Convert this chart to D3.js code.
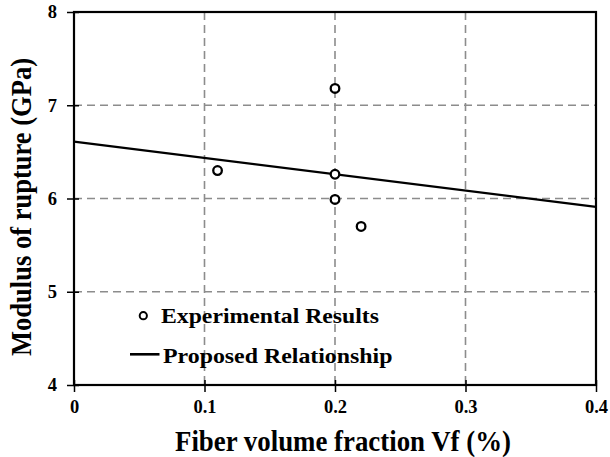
<!DOCTYPE html>
<html>
<head>
<meta charset="utf-8">
<script src="https://cdn.jsdelivr.net/npm/d3@7"></script>
<style>
  html, body { margin: 0; padding: 0; background: #fff; }
  svg { display: block; }
  text { font-family: "Liberation Serif", "Times New Roman", serif; font-weight: bold; fill: #000; }
</style>
</head>
<body>
<script>
// Experimental measurements
const expVf = [0.11, 0.20, 0.20, 0.20, 0.22];
const expMOR = [6.30, 7.18, 6.26, 5.99, 5.70];

// Proposed relationship (straight line between its end points)
const relVf = [0, 0.4];
const relMOR = [6.61, 5.91];

const xTicks = [0, 0.1, 0.2, 0.3, 0.4];
const xTickLabels = ["0", "0.1", "0.2", "0.3", "0.4"];
const yTicks = [4, 5, 6, 7, 8];
const yTickLabels = ["4", "5", "6", "7", "8"];
const legendLabels = ["Experimental Results", "Proposed Relationship"];

const W = 610, H = 457;
const m = { left: 74, right: 14, top: 12, bottom: 72 };

const svg = d3.select("body").append("svg").attr("width", W).attr("height", H);

const x = d3.scaleLinear().domain([0, 0.4]).range([m.left, W - m.right]);
const y = d3.scaleLinear().domain([4, 8]).range([H - m.bottom, m.top]);

// dashed grid
const grid = svg.append("g").attr("stroke", "#8c8c8c").attr("stroke-width", 1.6)
  .attr("stroke-dasharray", "8,5");
grid.selectAll("line.gx").data(xTicks.slice(1, -1)).join("line")
  .attr("x1", d => x(d)).attr("x2", d => x(d))
  .attr("y1", y(8)).attr("y2", y(4));
grid.selectAll("line.gy").data(yTicks.slice(1, -1)).join("line")
  .attr("x1", x(0)).attr("x2", x(0.4))
  .attr("y1", d => y(d)).attr("y2", d => y(d));

// axes: ticks cross the frame line
const xAxis = d3.axisBottom(x).tickValues(xTicks)
  .tickFormat((d, i) => xTickLabels[i]).tickSize(7).tickPadding(8);
const yAxis = d3.axisLeft(y).tickValues(yTicks)
  .tickFormat((d, i) => yTickLabels[i]).tickSize(7).tickPadding(10);

const gx = svg.append("g").attr("transform", `translate(0,${y(4)})`).call(xAxis);
const gy = svg.append("g").attr("transform", `translate(${x(0)},0)`).call(yAxis);
gx.selectAll(".tick line").attr("y1", -5);
gy.selectAll(".tick line").attr("x1", 5);
[gx, gy].forEach(g => {
  g.select(".domain").remove();
  g.selectAll(".tick line").attr("stroke", "#000").attr("stroke-width", 1.5);
  g.selectAll(".tick text").style("font-size", "18.5px")
    .style("font-family", "'Liberation Serif', serif").style("font-weight", "bold");
});

// plot frame
svg.append("rect")
  .attr("x", x(0)).attr("y", y(8))
  .attr("width", x(0.4) - x(0)).attr("height", y(4) - y(8))
  .attr("fill", "none").attr("stroke", "#000").attr("stroke-width", 2.2);

// proposed relationship line
const line = d3.line().x((d, i) => x(relVf[i])).y(d => y(d));
svg.append("path").datum(relMOR).attr("d", line)
  .attr("fill", "none").attr("stroke", "#000").attr("stroke-width", 2.4);

// experimental points
svg.append("g").selectAll("circle").data(expMOR).join("circle")
  .attr("cx", (d, i) => x(expVf[i])).attr("cy", d => y(d)).attr("r", 4.3)
  .attr("fill", "#fff").attr("stroke", "#000").attr("stroke-width", 2.3);

// legend
const lg = svg.append("g");
lg.append("circle").attr("cx", 143.3).attr("cy", 315.7).attr("r", 3.6)
  .attr("fill", "#fff").attr("stroke", "#000").attr("stroke-width", 2);
lg.append("text").attr("x", 161).attr("y", 322.7).style("font-size", "21.5px")
  .attr("textLength", 218).attr("lengthAdjust", "spacingAndGlyphs").text(legendLabels[0]);
lg.append("line").attr("x1", 130).attr("x2", 159.5).attr("y1", 354.3).attr("y2", 354.3)
  .attr("stroke", "#000").attr("stroke-width", 2.6);
lg.append("text").attr("x", 163).attr("y", 363.3).style("font-size", "21.5px")
  .attr("textLength", 229.5).attr("lengthAdjust", "spacingAndGlyphs").text(legendLabels[1]);

// axis titles
svg.append("text").attr("x", 175).attr("y", 451)
  .style("font-size", "29px")
  .attr("textLength", 336).attr("lengthAdjust", "spacingAndGlyphs")
  .text("Fiber volume fraction Vf (%)");
svg.append("text")
  .attr("transform", "translate(31,356) rotate(-90)")
  .style("font-size", "30px")
  .attr("textLength", 298).attr("lengthAdjust", "spacingAndGlyphs")
  .text("Modulus of rupture (GPa)");
</script>
</body>
</html>
